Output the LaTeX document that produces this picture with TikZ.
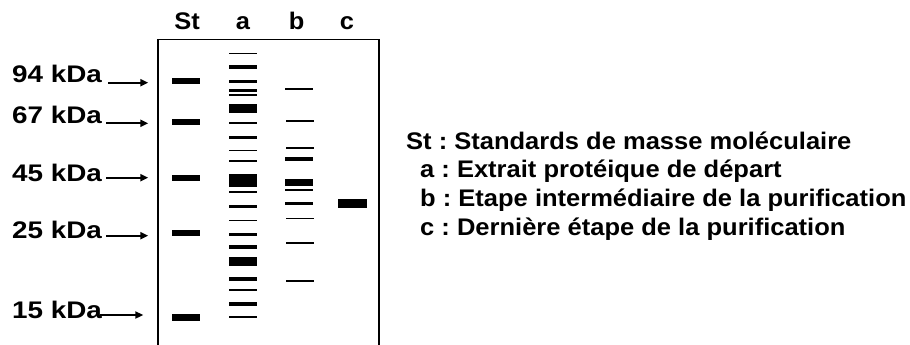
\documentclass[tikz,border=0pt]{standalone}
\usepackage{fontspec}
\setmainfont{Liberation Sans}
\newfontfamily\lblf[FakeStretch=1.16]{Liberation Sans}
\newfontfamily\legf[FakeStretch=1.063]{Liberation Sans}
\newfontfamily\hdrf[FakeStretch=1.06]{Liberation Sans}
\usetikzlibrary{arrows.meta}
\frenchspacing
\newcommand{\gband}[4]{\fill[bandfill] (#1,{#3-#4/2}) rectangle (#2,{#3+#4/2});}
\begin{document}
\begin{tikzpicture}[x=1pt,y=-1pt,
  bandfill/.style={black},
  hdr/.style={font=\hdrf\bfseries\fontsize{24}{28}\selectfont, anchor=base, inner sep=0pt},
  mwlbl/.style={font=\lblf\bfseries\fontsize{24}{28}\selectfont, anchor=base west, inner sep=0pt},
  legend/.style={font=\legf\bfseries\fontsize{24}{28}\selectfont, anchor=base west, inner sep=0pt},
  mwarrow/.style={line width=2pt, -{Triangle[length=8pt,width=7pt]}},
  gelbox/.style={line width=1.5pt}]
\useasboundingbox (0,0) rectangle (910,345);
% gel outline
\draw[gelbox] (158,345) -- (158,39.5) -- (379,39.5) -- (379,345);
% lane headers
\node[hdr] (hSt) at (187,29.3) {St};
\node[hdr] (ha) at (243,29.3) {a};
\node[hdr] (hb) at (296.7,29.3) {b};
\node[hdr] (hc) at (347,29.3) {c};
% molecular weight labels
\node[mwlbl] (m94) at (12,82) {94 kDa};
\node[mwlbl] (m67) at (12,123.5) {67 kDa};
\node[mwlbl] (m45) at (12,181) {45 kDa};
\node[mwlbl] (m25) at (12,238.3) {25 kDa};
\node[mwlbl] (m15) at (12,318.3) {15 kDa};
\coordinate (s94) at (108.3,82.7); \coordinate (e94) at (148.3,82.7);
\coordinate (s67) at (106,123.3); \coordinate (e67) at (148.3,123.3);
\coordinate (s45) at (106,177.7); \coordinate (e45) at (148.3,177.7);
\coordinate (s25) at (106,235.7); \coordinate (e25) at (148.3,235.7);
\coordinate (s15) at (100,315); \coordinate (e15) at (143.3,315);
\draw[mwarrow] (s94) -- (e94);
\draw[mwarrow] (s67) -- (e67);
\draw[mwarrow] (s45) -- (e45);
\draw[mwarrow] (s25) -- (e25);
\draw[mwarrow] (s15) -- (e15);
% St lane
\gband{172}{200}{81.3}{6.3}
\gband{172}{200}{122.3}{6.3}
\gband{172}{200}{178.3}{6.3}
\gband{172}{200}{233.3}{6.3}
\gband{172}{200}{317.5}{6.3}
% lane a
\gband{229}{257}{53.3}{1.5}
\gband{229}{257}{67}{3.3}
\gband{229}{257}{81.3}{2.7}
\gband{229}{257}{90.3}{2.7}
\gband{229}{257}{94.7}{2}
\gband{229}{257}{108.3}{8.7}
\gband{229}{257}{123}{1.5}
\gband{229}{257}{137.5}{3}
\gband{229}{257}{150.7}{1.5}
\gband{229}{257}{160.8}{2.3}
\gband{229}{257}{180.7}{13.3}
\gband{229}{257}{191.8}{1.7}
\gband{229}{257}{206.5}{3}
\gband{229}{257}{220.3}{1.5}
\gband{229}{257}{234.5}{3}
\gband{229}{257}{247}{3.3}
\gband{229}{257}{261.3}{8.7}
\gband{229}{257}{278.8}{3.7}
\gband{229}{257}{290.2}{1.5}
\gband{229}{257}{303.8}{3.7}
\gband{229}{257}{317.2}{1.5}
% lane b
\gband{285}{313}{88.8}{2.3}
\gband{286}{314}{120.7}{2}
\gband{286}{314}{148.2}{1.5}
\gband{285}{313}{159.2}{3.7}
\gband{285}{313}{182.6}{6.3}
\gband{285}{313}{189.8}{2.5}
\gband{285}{313}{203.5}{3}
\gband{286}{314}{218.3}{1.5}
\gband{286}{314}{243.2}{1.5}
\gband{286}{314}{281.2}{1.5}
% lane c
\gband{338}{367}{203.3}{8.7}
% legend
\node[legend] (lSt) at (406,149.3) {St : Standards de masse moléculaire};
\node[legend] (la) at (420,177) {a : Extrait protéique de départ};
\node[legend] (lb) at (420,206) {b : Etape intermédiaire de la purification};
\node[legend] (lc) at (420,235.5) {c : Dernière étape de la purification};
\end{tikzpicture}
\end{document}
